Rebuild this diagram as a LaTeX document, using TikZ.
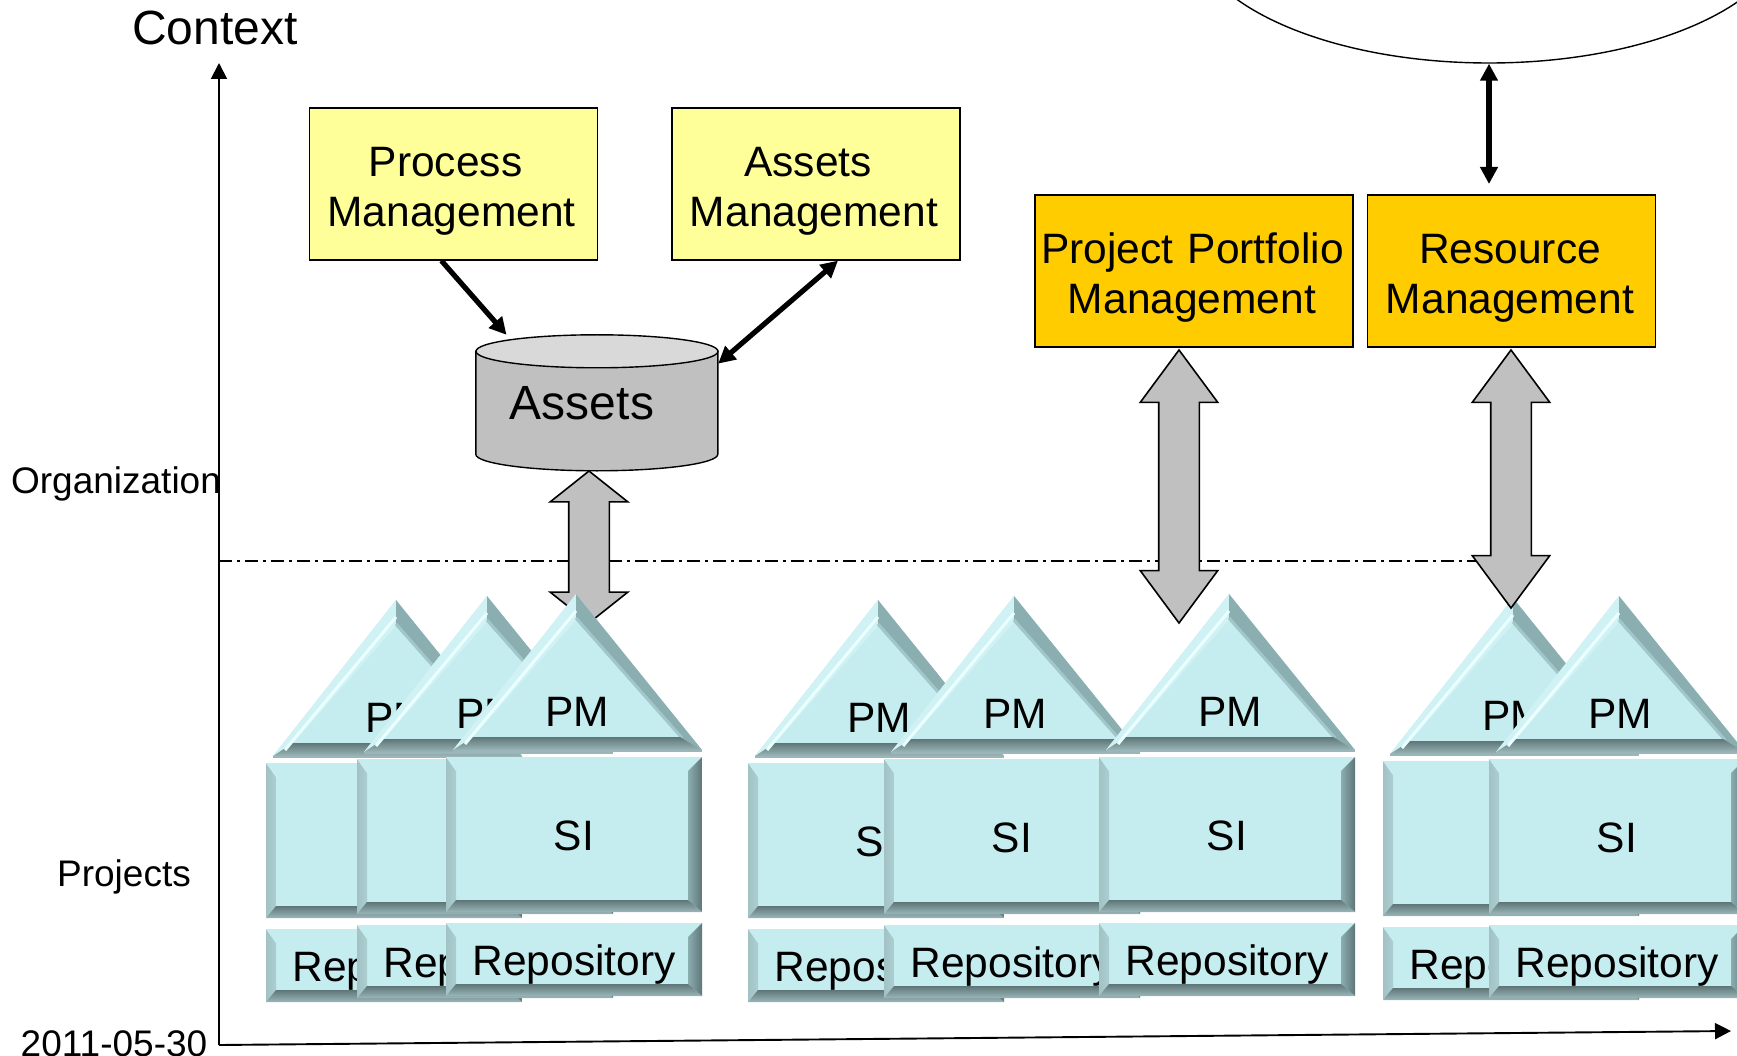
\documentclass[tikz,border=0pt]{standalone}
\usepackage{fontspec}
\setmainfont{Liberation Sans}
\usetikzlibrary{arrows.meta,shapes.geometric,shapes.arrows}

\definecolor{bevelbase}{HTML}{C5ECEF}
\definecolor{bevelglow}{HTML}{EAFFFF}
\definecolor{bevelside}{HTML}{A2C2C4}
\definecolor{beveldark}{HTML}{5F7678}
\definecolor{bevelpale}{HTML}{9AB6B8}
\definecolor{bevelslope}{HTML}{8BAEB1}
\definecolor{paleyellow}{HTML}{FFFF99}
\definecolor{storebody}{HTML}{C0C0C0}
\definecolor{storetop}{HTML}{D9D9D9}

\tikzset{
    plainbox/.style={draw, line width=1.3pt, text width=280pt, align=center, minimum height=152pt, inner sep=0pt, font=\fontsize{42.5}{50}\selectfont, execute at begin node={\rule{0pt}{44pt}}},
    yellowbox/.style={plainbox, fill=paleyellow, minimum width=288pt},
    orangebox/.style={plainbox, fill={rgb,255:red,255;green,204;blue,0}},
    bigarrow/.style={shape=double arrow, draw, fill=storebody, line width=1.6pt, rotate=90, inner sep=19.5pt, double arrow head extend=18.5pt},
    axisline/.style={line width=1.9pt, -{Triangle[width=16pt,length=16pt]}},
    boldlink/.style={line width=5.2pt, >={Triangle[width=17pt,length=17pt]}},
    sidelabel/.style={font=\fontsize{37}{40}\selectfont},
    houselabel/.style={font=\fontsize{42.5}{46}\selectfont, inner sep=0pt}
}

% one bevelled box: name, left, top, width, height, text, text shift
\newcommand{\bevelbox}[7]{
    \begin{scope}[shift={(#2,#3)}]
        \fill[bevelbase] (0,0) rectangle (#4,#5);
        \shade[left color=bevelside, right color=bevelside!70!bevelbase] (0,0) -- (10,14) -- (10,#5-12) -- (0,#5) -- cycle;
        \shade[top color=bevelbase, middle color=bevelglow, bottom color=bevelbase] (0,0) -- (#4,0) -- (#4-14,14) -- (10,14) -- cycle;
        \shade[left color=bevelslope, right color=beveldark] (#4,0) -- (#4,#5) -- (#4-14,#5-12) -- (#4-14,14) -- cycle;
        \shade[top color=beveldark, bottom color=bevelpale] (10,#5-12) -- (#4-14,#5-12) -- (#4,#5) -- (0,#5) -- cycle;
    \end{scope}
    \node[houselabel] (#1) at (#2+128,#3+#5/2+#7) {#6};
}

% one project: name, left, top
\newcommand{\projecthouse}[3]{
    \begin{scope}[shift={(#2,#3)}]
        \fill[bevelbase] (130,0) -- (7,156) -- (256,156) -- cycle;
        \fill[bevelbase!70!bevelglow] (130,0) -- (7,156) -- (27,143) -- (130,26) -- cycle;
        \fill[bevelslope] (130,0) -- (256,156) -- (234,143) -- (130,26) -- cycle;
        \draw[bevelslope!60!bevelbase, line width=3pt] (130,24) -- (236,144);
        \shade[top color=beveldark, bottom color=bevelpale] (7,156) -- (256,156) -- (234,143) -- (27,143) -- cycle;
        \draw[bevelglow, line width=3pt] (130,17) -- (19,150);
        \fill[bevelpale] (7,156) rectangle (256,158);
    \end{scope}
    \node[houselabel] (#1pm) at (#2+131,#3+118) {PM};
    \bevelbox{#1si}{#2}{#3+163}{256}{155}{SI}{1}
    \bevelbox{#1repo}{#2}{#3+329}{256}{73}{Repository}{5}
}

\begin{document}
\begin{tikzpicture}[x=1pt,y=-1pt]
    \useasboundingbox (0,0) rectangle (1737,1056);
    \clip (0,0) rectangle (1737,1056);

    % axes and the organization limit
    \coordinate (axisorigin) at (219,1045);
    \coordinate (axistop) at (219,63);
    \coordinate (axisright) at (1731,1031);
    \coordinate (limitleft) at (219,561);
    \coordinate (limitright) at (1500,561);
    \draw[axisline] (axisorigin) -- (axistop);
    \draw[axisline] (axisorigin) -- (axisright);
    \draw[line width=1.4pt, dash pattern=on 13pt off 5pt on 3pt off 5pt] (limitleft) -- (limitright);

    \node[sidelabel] (contextlabel) at (215,28) {\fontsize{48}{50}\selectfont Context};
    \node[sidelabel] (orglabel) at (116,484) {Organization};
    \node[sidelabel] (projlabel) at (124,877) {Projects};
    \node[sidelabel, anchor=base] (datelabel) at (114,1056) {2011-05-30};

    % upper boxes
    \node[yellowbox] (procbox) at (453.5,184) {Process\kern16pt\\Management\kern4pt};
    \node[yellowbox] (assetbox) at (816,184) {Assets\kern16pt\\Management\kern4pt};
    \node[orangebox, minimum width=318pt, text width=310pt] (portbox) at (1194,271) {Project Portfolio\kern3pt\\Management\kern4pt};
    \node[orangebox, minimum width=288pt] (resbox) at (1511.5,271) {Resource\kern3pt\\Management\kern3pt};

    % asset store
    \node[minimum width=242pt, minimum height=136pt, inner sep=0pt] (store) at (597,403) {};
    \draw[line width=1.4pt, fill=storebody] (store.north west) ++(0,16.5) -- ++(0,103) arc[start angle=180, end angle=360, x radius=121pt, y radius=16.5pt] -- ++(0,-103) -- cycle;
    \draw[line width=1.4pt, fill=storetop] (store.north) ++(0,16.5) ellipse [x radius=121pt, y radius=16.5pt];
    \node[font=\fontsize{48}{50}\selectfont, inner sep=0pt] (storelabel) at (582,403) {Assets};

    \draw[boldlink, ->] (procbox.-99) -- (store.143);
    \draw[boldlink, <->] (assetbox.-74) -- (store.18);

    % top oval
    \node[shape=ellipse, draw, line width=1.4pt, minimum width=600pt, minimum height=278pt, inner sep=0pt] (topoval) at (1489,-76) {};
    \coordinate (restop) at (1489,184);
    \draw[boldlink, <->] (topoval.south) -- (restop);

    \node[bigarrow, minimum height=152pt, double arrow tip angle=103] (storearrow) at (589,547) {};

    \foreach \hname/\hx/\hy in {a/266/600, b/357/596, c/446/594, d/748/600, e/884/596, f/1099/594, g/1383/598, h/1489/596} {
        \projecthouse{\hname}{\hx}{\hy}
    }

    \node[bigarrow, minimum height=273pt, double arrow tip angle=73] (portarrow) at (1179,486.5) {};
    \node[bigarrow, minimum height=258pt, double arrow tip angle=73] (resarrow) at (1511,479) {};
\end{tikzpicture}
\end{document}
